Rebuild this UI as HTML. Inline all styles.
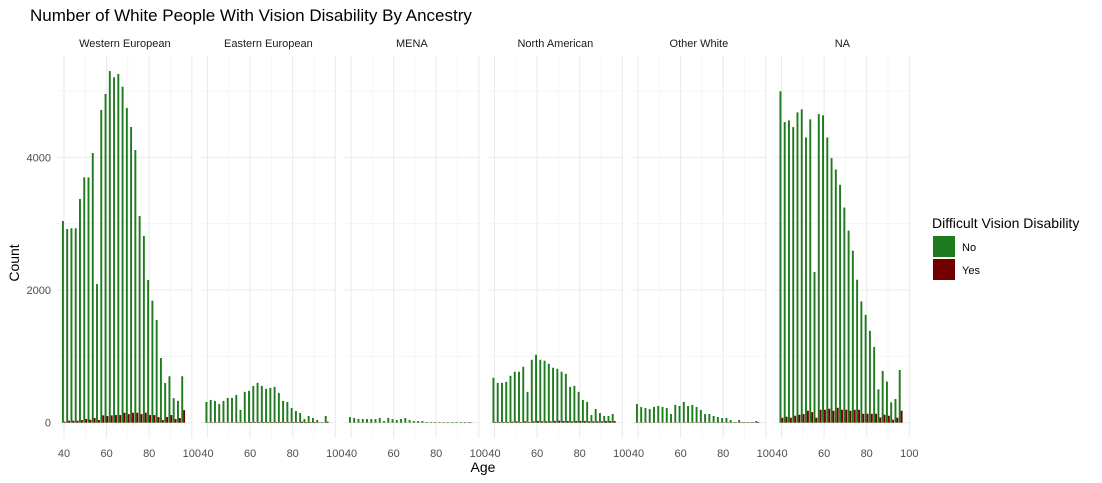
<!DOCTYPE html>
<html><head><meta charset="utf-8">
<style>
body{margin:0;background:#fff;}
svg{display:block;font-family:"Liberation Sans",sans-serif;}
</style></head>
<body>
<svg id="chart" width="1102" height="483" viewBox="0 0 1102 483">
<text x="30" y="21" font-size="17" fill="#000">Number of White People With Vision Disability By Ancestry</text>
<g id="panels"></g>
<text x="483" y="472" font-size="14" text-anchor="middle" fill="#000">Age</text>
<text transform="translate(19,263) rotate(-90)" font-size="14" text-anchor="middle" fill="#000">Count</text>
<g>
<text x="932" y="228" font-size="14" fill="#000">Difficult Vision Disability</text>
<rect x="933" y="236" width="22" height="21" fill="#1e7b1e"/>
<text x="962" y="251" font-size="11" fill="#000">No</text>
<rect x="933" y="259" width="22" height="21" fill="#730000"/>
<text x="962" y="274" font-size="11" fill="#000">Yes</text>
</g>
</svg>
<script>
const panelNames = ["Western European","Eastern European","MENA","North American","Other White","NA"];
const ages = [40,42,44,46,48,50,52,54,56,58,60,62,64,66,68,70,72,74,76,78,80,82,84,86,88,90,92,94,96];
const noWestern = [3040,2920,2930,2930,3372,3698,3698,4065,2090,4713,4955,5300,5206,5256,5065,4744,4457,4110,3115,2814,2150,1840,1548,975,598,700,370,330,700];
const yesWestern = [15,30,30,30,40,55,45,70,40,110,100,110,115,115,150,130,150,150,130,150,115,115,85,40,85,115,55,70,190];
const noEastern = [313,343,328,283,328,374,374,419,192,465,480,555,601,555,510,525,540,449,328,313,222,177,146,55,101,71,40,10,101];
const yesEastern = [5,5,5,5,5,5,5,8,5,8,10,10,10,10,10,10,10,10,10,10,10,10,15,10,10,10,5,5,15];
const noMena = [85,71,55,55,55,55,55,71,25,71,55,40,55,71,40,25,25,25,10,10,10,10,10,10,10,10,10,10,10];
const yesMena = [2,2,2,2,2,2,2,2,2,2,2,2,2,2,2,2,2,2,2,2,2,2,2,2,2,2,2,2,5];
const noNorthAm = [677,601,601,616,707,768,768,843,465,949,1025,949,934,888,828,813,768,737,540,555,465,343,313,116,207,146,101,101,131];
const yesNorthAm = [10,10,10,10,15,20,10,20,10,20,25,20,20,20,25,30,25,25,20,25,25,25,20,20,20,20,25,25,25];
const noOther = [283,237,222,207,237,252,237,222,131,268,252,313,252,268,237,192,131,131,101,86,71,71,40,10,40,10,10,10,25];
const yesOther = [3,3,3,3,3,3,3,3,3,3,3,5,5,5,5,5,5,5,5,5,5,5,5,5,5,5,5,5,10];
const noNA = [4995,4531,4556,4455,4677,4723,4300,4572,2270,4652,4632,4300,3988,3817,3585,3243,2895,2593,2155,1828,1626,1385,1143,503,780,620,307,357,795];
const yesNA = [75,90,75,105,120,130,180,160,75,195,195,210,180,225,195,195,180,195,195,135,135,135,135,80,120,105,45,75,180];
const yTicks = [0,2000,4000];
const yMinor = [1000,3000,5000];
const xTicks = [40,60,80,100];
const xMinor = [50,70,90];

const noSeries = [noWestern,noEastern,noMena,noNorthAm,noOther,noNA];
const yesSeries = [yesWestern,yesEastern,yesMena,yesNorthAm,yesOther,yesNA];

const NS="http://www.w3.org/2000/svg";
const g=document.getElementById('panels');
const PW=143.5, X0=64, PXY=2.13;
const Y0=422.7, PYV=132.7/2000, TOP=56, BOT=438;
function xs(p,a){return X0+p*PW+(a-40)*PXY;}
function ys(v){return Y0-v*PYV;}
function mk(tag,attrs,parent){const e=document.createElementNS(NS,tag);for(const k in attrs)e.setAttribute(k,attrs[k]);(parent||g).appendChild(e);return e;}

panelNames.forEach((name,p)=>{
  const pg=mk('g',{});
  
  
  const left=xs(p,36.7), right=xs(p,100)+1;
  yMinor.forEach(v=>{const l=mk('line',{x1:left,x2:right,y1:ys(v),y2:ys(v),stroke:'#f0f0f0','stroke-width':0.6},pg);
    
    });
  xMinor.forEach(v=>{const l=mk('line',{x1:xs(p,v),x2:xs(p,v),y1:TOP,y2:BOT,stroke:'#f0f0f0','stroke-width':0.6},pg);
    
    });
  yTicks.forEach(v=>{const l=mk('line',{x1:left,x2:right,y1:ys(v),y2:ys(v),stroke:'#ebebeb','stroke-width':1.1},pg);
    
    });
  xTicks.forEach(v=>{const l=mk('line',{x1:xs(p,v),x2:xs(p,v),y1:TOP,y2:BOT,stroke:'#ebebeb','stroke-width':1.1},pg);
    
    
    const t=mk('text',{x:xs(p,v),y:457,'font-size':11,'text-anchor':'middle',fill:'#4d4d4d'},pg);t.textContent=v;
    
    });
  const st=mk('text',{x:(left+right)/2,y:47,'font-size':11,'text-anchor':'middle',fill:'#1a1a1a'},pg);st.textContent=name;
  
  
  ages.forEach((a,i)=>{
    const nv=noSeries[p][i], yv=yesSeries[p][i];
    const b=mk('rect',{x:xs(p,a-0.95),y:ys(nv),width:0.9*PXY,height:Y0-ys(nv),fill:'#1e7b1e'},pg);
    
    
    const r=mk('rect',{x:xs(p,a-0.05),y:ys(yv),width:0.9*PXY,height:Y0-ys(yv),fill:'#730000'},pg);
    
    
  });
});
yTicks.forEach(v=>{const t=mk('text',{x:51,y:ys(v)+4,'font-size':11,'text-anchor':'end',fill:'#4d4d4d'});t.textContent=v;
  
  });
</script>
</body></html>
